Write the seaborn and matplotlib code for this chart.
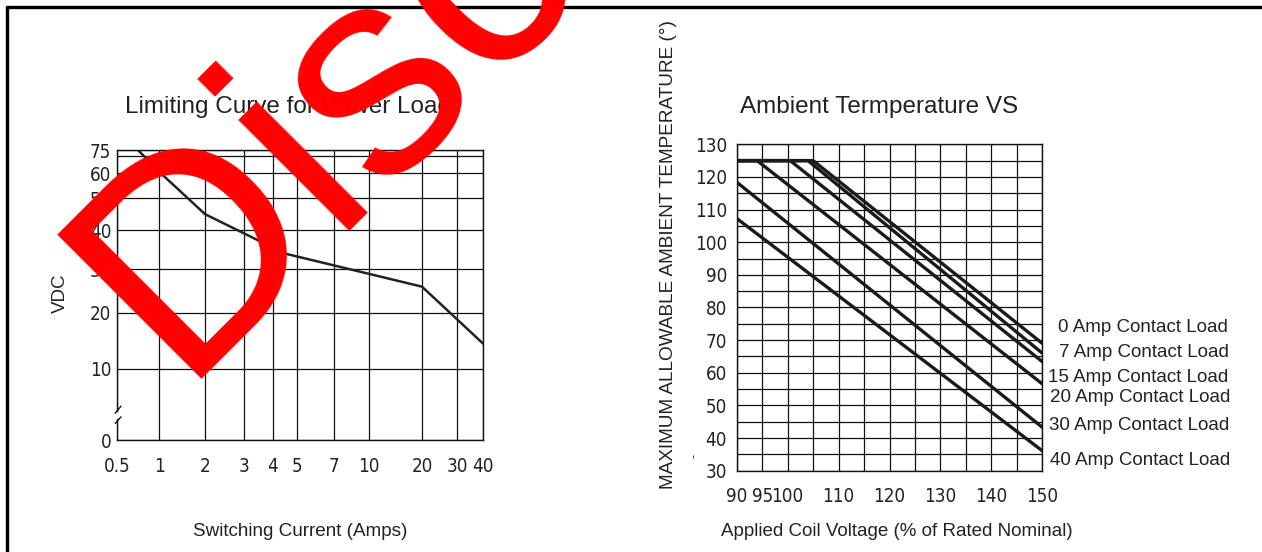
import numpy as np
import pandas as pd
import matplotlib
matplotlib.use("Agg")
import matplotlib.pyplot as plt
import seaborn as sns
from matplotlib import font_manager
from matplotlib.font_manager import FontProperties
from matplotlib.lines import Line2D
from matplotlib.ticker import FixedLocator, NullFormatter

# ---- data: left chart (limiting curve) ----
current_amps = [0.75, 1, 2, 4.5, 20, 40]
vdc = [75, 61, 45, 34, 26, 14.5]
left_xticks = [0.5, 1, 2, 3, 4, 5, 7, 10, 20, 30, 40]
left_yticks = [0, 10, 20, 30, 40, 50, 60, 75]
left_yminor = [70]

# ---- data: right chart (ambient temperature vs coil voltage) ----
load_names = ["0 Amp Contact Load", "7 Amp Contact Load", "15 Amp Contact Load",
              "20 Amp Contact Load", "30 Amp Contact Load", "40 Amp Contact Load"]
volt_0 = [90, 105, 150]
temp_0 = [125, 125, 69]
volt_7 = [90, 104, 150]
temp_7 = [125, 125, 66]
volt_15 = [90, 100.5, 150]
temp_15 = [125, 125, 63.4]
volt_20 = [90, 94, 150]
temp_20 = [125, 125, 56.6]
volt_30 = [90, 150]
temp_30 = [118.4, 43.3]
volt_40 = [90, 150]
temp_40 = [107.3, 36.1]
right_xticks = [90, 95, 100, 110, 120, 130, 140, 150]
right_yticks = list(range(30, 131, 10))

sns.set_style("white")
plt.rcParams["font.family"] = ["Liberation Sans", "DejaVu Sans"]

# look for a narrow / condensed face for the tick numbers
def find_narrow():
    narrow = []
    for f in font_manager.fontManager.ttflist:
        st = f.stretch
        is_cond = ("Narrow" in f.name or "Condensed" in f.name
                   or st in ("condensed", "semi-condensed", "extra-condensed", "ultra-condensed")
                   or (isinstance(st, (int, float)) and st < 500))
        if is_cond and f.style == "normal" and f.weight in (400, "normal", "regular", "book"):
            narrow.append(f)
    narrow.sort(key=lambda f: (0 if "Liberation" in f.name else 1 if "DejaVu" in f.name else 2))
    return narrow[0].fname if narrow else None

narrow_file = find_narrow()
if narrow_file:
    tick_prop = FontProperties(fname=narrow_file, size=13.5)
else:
    tick_prop = FontProperties(family="DejaVu Sans", size=11.5)

W, H = 1262, 552
fig = plt.figure(figsize=(W / 100, H / 100), dpi=100)

def fx(px):
    return px / W

def fy(py):
    return 1 - py / H

# left axes: 117..483 px wide, 150..440 px tall
axL = fig.add_axes([fx(117), fy(440), (483 - 117) / W, (440 - 150) / H])

# the printed chart has uneven spacing, calibrate scales from the tick positions
xcal_v = np.array(left_xticks, dtype=float)
xcal_p = (np.array([117, 159, 205, 244, 273, 297, 334, 369, 422, 457, 483]) - 117) / 366
ycal_v = np.array([0, 10, 20, 30, 40, 50, 60, 70, 75], dtype=float)
ycal_p = (440 - np.array([440, 368.7, 312.7, 269.3, 230, 198.3, 173.3, 156, 150])) / 290

axL.set_xscale("function", functions=(lambda v: np.interp(v, xcal_v, xcal_p),
                                      lambda p: np.interp(p, xcal_p, xcal_v)))
axL.set_yscale("function", functions=(lambda v: np.interp(v, ycal_v, ycal_p),
                                      lambda p: np.interp(p, ycal_p, ycal_v)))

sns.lineplot(x=current_amps, y=vdc, ax=axL, color="#222222", lw=1.8, sort=False)
axL.set_xlim(0.5, 40)
axL.set_ylim(0, 75)
axL.xaxis.set_major_locator(FixedLocator(left_xticks))
axL.set_xticklabels([str(t) for t in left_xticks])
axL.yaxis.set_major_locator(FixedLocator(left_yticks))
axL.set_yticklabels([str(t) for t in left_yticks])
axL.yaxis.set_minor_locator(FixedLocator(left_yminor))
axL.yaxis.set_minor_formatter(NullFormatter())
axL.xaxis.set_minor_locator(FixedLocator([]))
axL.grid(True, which="both", color="#111111", lw=0.9)
axL.tick_params(which="both", length=0, colors="#222222", pad=4)
axL.tick_params(axis="x", pad=12)
for lab in axL.get_xticklabels() + axL.get_yticklabels():
    lab.set_fontproperties(tick_prop)
for s in axL.spines.values():
    s.set_color("#111111")
    s.set_linewidth(1.0)
axL.set_xlabel("")
axL.set_ylabel("")

# axis break marks on the left spine
axL.plot([0, 0], [0.081, 0.091], transform=axL.transAxes, color="white", lw=3,
         clip_on=False, zorder=5)
axL.plot([-0.005, 0.011], [0.057, 0.080], transform=axL.transAxes, color="#111111",
         lw=1, clip_on=False, zorder=6)
axL.plot([-0.005, 0.011], [0.092, 0.117], transform=axL.transAxes, color="#111111",
         lw=1, clip_on=False, zorder=6)

# right axes: 736.7..1042.3 px wide, 144.3..470.7 px tall
axR = fig.add_axes([fx(736.7), fy(470.7), (1042.3 - 736.7) / W, (470.7 - 144.3) / H])

frames = []
for name, xs, ys in zip(load_names,
                        [volt_0, volt_7, volt_15, volt_20, volt_30, volt_40],
                        [temp_0, temp_7, temp_15, temp_20, temp_30, temp_40]):
    frames.append(pd.DataFrame({"voltage": xs, "temp": ys, "load": name}))
df = pd.concat(frames, ignore_index=True)

sns.lineplot(data=df, x="voltage", y="temp", hue="load", ax=axR,
             palette=["#1a1a1a"] * len(load_names), lw=2.4, legend=False)
axR.set_xlim(90, 150)
axR.set_ylim(30, 130)
axR.xaxis.set_major_locator(FixedLocator(right_xticks))
axR.set_xticklabels([str(t) for t in right_xticks])
axR.xaxis.set_minor_locator(FixedLocator(list(range(90, 151, 5))))
axR.yaxis.set_major_locator(FixedLocator(right_yticks))
axR.set_yticklabels([str(t) for t in right_yticks])
axR.yaxis.set_minor_locator(FixedLocator(list(range(35, 130, 10))))
axR.xaxis.set_minor_formatter(NullFormatter())
axR.yaxis.set_minor_formatter(NullFormatter())
axR.grid(True, which="both", color="#111111", lw=0.9)
axR.tick_params(which="both", length=0, colors="#222222", pad=4)
axR.tick_params(axis="y", which="major", length=3, color="#111111", width=0.9)
axR.tick_params(axis="x", pad=12)
for lab in axR.get_xticklabels() + axR.get_yticklabels():
    lab.set_fontproperties(tick_prop)
for s in axR.spines.values():
    s.set_color("#111111")
    s.set_linewidth(1.0)
axR.set_xlabel("")
axR.set_ylabel("")

# curve labels to the right of the plot
label_y = [74.0, 66.1, 58.7, 52.3, 44.0, 33.0]
label_x = [1058, 1059, 1048, 1050, 1049, 1050]
for name, ly, lx in zip(load_names, label_y, label_x):
    axR.text((lx - 736.7) / 305.6, ly, name, transform=axR.get_yaxis_transform(),
             ha="left", va="center", fontsize=13.5, color="#222222")

# titles and axis labels
txt = "#222222"
fig.text(fx(125), fy(113), "Limiting Curve for Power Load", fontsize=17.5,
         color=txt, ha="left", va="baseline")
fig.text(fx(740), fy(113), "Ambient Termperature VS", fontsize=17.5,
         color=txt, ha="left", va="baseline")
fig.text(fx(60), fy(293), "VDC", rotation=90, fontsize=13.5, color=txt,
         ha="center", va="center")
fig.text(fx(300), fy(531), "Switching Current (Amps)", fontsize=13.6, color=txt,
         ha="center", va="center")
fig.text(fx(897), fy(531), "Applied Coil Voltage (% of Rated Nominal)", fontsize=13.5,
         color=txt, ha="center", va="center")
fig.text(fx(668), fy(255), "MAXIMUM ALLOWABLE AMBIENT TEMPERATURE (°)", rotation=90,
         fontsize=13.7, color=txt, ha="center", va="center")
fig.text(fx(695), fy(456), "-", rotation=90, fontsize=9, color=txt,
         ha="center", va="center")

# page frame (top and left edges)
fig.add_artist(Line2D([fx(6.5), 1], [fy(6.5), fy(6.5)], transform=fig.transFigure,
                      color="black", lw=2.4))
fig.add_artist(Line2D([fx(6.5), fx(6.5)], [fy(6.5), 0], transform=fig.transFigure,
                      color="black", lw=2.4))

# red watermark
fig.text(fx(178), fy(379), "Discontinued", rotation=45, rotation_mode="anchor",
         ha="left", va="baseline", fontsize=214, color="#ff0000",
         family="Liberation Sans", zorder=20)

fig.savefig("out.png", dpi=100)
